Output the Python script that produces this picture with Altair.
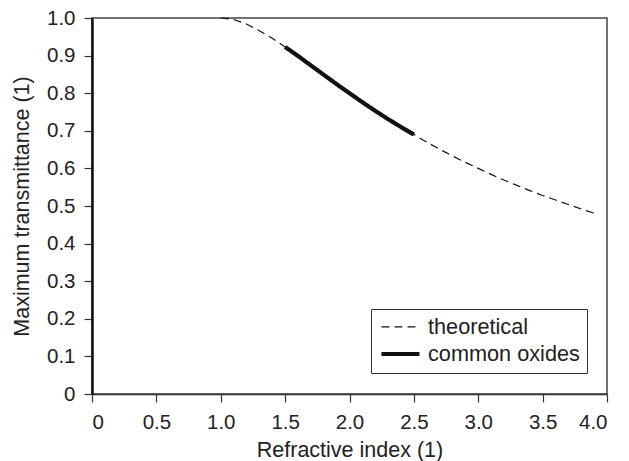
import altair as alt
import pandas as pd

# Theoretical maximum transmittance vs refractive index
n_theory = [1.0, 1.1, 1.2, 1.3, 1.4, 1.5, 1.6, 1.7, 1.8, 1.9, 2.0, 2.1, 2.2, 2.3, 2.4,
            2.5, 2.6, 2.7, 2.8, 2.9, 3.0, 3.1, 3.2, 3.3, 3.4, 3.5, 3.6, 3.7, 3.8, 3.9]
t_theory = [1.000, 0.996, 0.984, 0.966, 0.946, 0.923, 0.899, 0.874, 0.849, 0.824, 0.800,
            0.776, 0.753, 0.731, 0.710, 0.690, 0.670, 0.651, 0.633, 0.616, 0.600, 0.584,
            0.569, 0.555, 0.541, 0.528, 0.516, 0.504, 0.492, 0.481]

# Common oxides range
n_oxides = [1.5, 1.6, 1.7, 1.8, 1.9, 2.0, 2.1, 2.2, 2.3, 2.4, 2.5]
t_oxides = [0.923, 0.899, 0.874, 0.849, 0.824, 0.800, 0.776, 0.753, 0.731, 0.710, 0.690]

series_names = ["theoretical", "common oxides"]
x_ticks = [0, 0.5, 1.0, 1.5, 2.0, 2.5, 3.0, 3.5, 4.0]
y_ticks = [0, 0.1, 0.2, 0.3, 0.4, 0.5, 0.6, 0.7, 0.8, 0.9, 1.0]

df = pd.concat([
    pd.DataFrame({"n": n_theory, "T": t_theory, "series": series_names[0], "ord": 0}),
    pd.DataFrame({"n": n_oxides, "T": t_oxides, "series": series_names[1], "ord": 1}),
])

FONT = "Liberation Sans"
lbl_expr = "datum.value == 0 ? '0' : format(datum.value, '.1f')"

line = alt.Chart(df).mark_line(color="#111111").encode(
    x=alt.X("n:Q", scale=alt.Scale(domain=[0, 4], nice=False),
            axis=alt.Axis(title="Refractive index (1)", values=x_ticks, labelExpr=lbl_expr,
                          domainColor="#333333", domainWidth=1.5, labelPadding=10,
                          titlePadding=7)),
    y=alt.Y("T:Q", scale=alt.Scale(domain=[0, 1], nice=False),
            axis=alt.Axis(title="Maximum transmittance (1)", values=y_ticks, labelExpr=lbl_expr,
                          domainColor="#111111", domainWidth=2.5, labelPadding=9,
                          titlePadding=13)),
    strokeDash=alt.StrokeDash("series:N",
                              scale=alt.Scale(domain=series_names, range=[[8, 5], [1, 0]]),
                              legend=alt.Legend(title=None)),
    strokeWidth=alt.StrokeWidth("series:N",
                                scale=alt.Scale(domain=series_names, range=[1.2, 4.2]),
                                legend=alt.Legend(title=None)),
    detail="series:N",
    order="ord:Q",
)

chart = line.properties(
    width=515, height=376,
    autosize=alt.AutoSizeParams(type="none"),
    padding={"left": 92, "top": 18, "right": 22, "bottom": 67},
).configure_view(
    stroke="#444444", strokeWidth=1.5
).configure_axis(
    grid=False,
    labelFont=FONT, titleFont=FONT,
    labelFontSize=20.5, titleFontSize=21.5,
    labelColor="#222222", titleColor="#222222",
    titleFontWeight="normal",
    tickColor="#333333", tickWidth=1.2, tickSize=8,
).configure_legend(
    orient="none", legendX=279, legendY=291,
    fillColor="white", strokeColor="#333333", strokeWidth=1,
    padding=7,
    symbolType="M-0.9,0H3.1", symbolSize=361,
    symbolStrokeColor="#111111",
    labelFont=FONT, labelFontSize=21.7, labelColor="#222222",
    labelOffset=26, rowPadding=3,
)

chart.save("out.html", embed_options={"renderer": "svg", "actions": False})
